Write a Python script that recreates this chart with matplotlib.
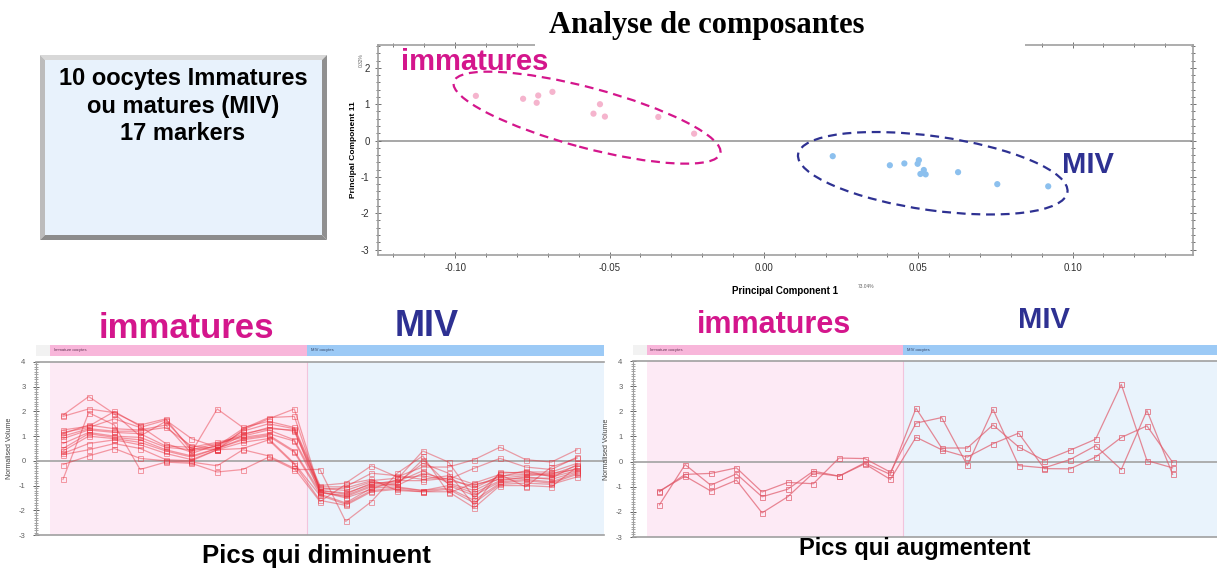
import matplotlib
matplotlib.use("Agg")
import matplotlib.pyplot as plt
from matplotlib.patches import Ellipse, Rectangle, Polygon
from matplotlib.transforms import ScaledTranslation
from matplotlib.ticker import MultipleLocator

plt.rcParams["font.family"] = ["Liberation Sans", "DejaVu Sans"]
plt.rcParams["axes.unicode_minus"] = False

W, H = 1217, 570

# PCA scores (component 1 / component 11)
immature_pc1 = [-0.0933, -0.0780, -0.0731, -0.0736, -0.0685, -0.0531, -0.0552, -0.0515, -0.0342, -0.0226]
immature_pc2 = [1.23, 1.15, 1.24, 1.04, 1.34, 1.00, 0.74, 0.66, 0.65, 0.19]
miv_pc1 = [0.0223, 0.0408, 0.0455, 0.0502, 0.0498, 0.0518, 0.0507, 0.0524, 0.0629, 0.0756, 0.0921]
miv_pc2 = [-0.43, -0.68, -0.63, -0.54, -0.64, -0.81, -0.92, -0.93, -0.87, -1.20, -1.26]
pc1_ticks = [-0.10, -0.05, 0.00, 0.05, 0.10]
pc2_ticks = [-3, -2, -1, 0, 1, 2]

# expression profiles: 10 immature samples then 11 MIV samples
n_immature = 10
samples = list(range(21))
profile_ticks = [-3, -2, -1, 0, 1, 2, 3, 4]

decreasing = [
    [1.85, 2.6, 1.9, 1.0, 1.6, 0.5, 0.45, 1.25, 1.7, 2.1, -1.2, -1.35, -0.9, -0.85, -0.4, -0.9, -1.2, -0.7, -0.6, -0.55, -0.2],
    [1.8, 2.1, 1.95, 1.45, 1.7, 0.4, 0.6, 1.3, 1.75, 1.8, -1.25, -1.5, -1.15, -0.75, 0.4, -0.05, -1.5, -0.5, -0.45, -0.45, -0.1],
    [1.25, 1.4, 2.0, 1.4, 0.7, 0.35, 2.1, 1.35, 1.6, 1.35, -1.0, -0.9, -0.2, -0.65, -0.25, -0.25, 0.05, 0.55, 0.05, -0.05, 0.45],
    [1.15, 1.35, 1.7, 1.35, 1.65, 0.9, 0.55, 1.2, 1.5, 1.3, -1.1, -1.2, -0.85, -1.0, -0.5, -0.75, -0.3, 0.1, -0.25, -0.35, 0.15],
    [1.1, 1.45, 1.3, 1.25, 1.45, 0.3, 0.65, 1.1, 1.3, 1.25, -1.3, -1.4, -1.0, -0.9, -0.1, -0.5, -1.8, -0.45, -0.5, -0.6, -0.3],
    [1.0, 1.3, 1.2, 1.2, 1.35, 0.6, 0.5, 1.05, 1.35, 1.2, -1.15, -1.1, -0.8, -0.7, -0.6, -0.8, -1.0, -0.65, -0.4, -0.65, -0.4],
    [0.9, 1.25, 1.15, 1.1, 0.6, 0.55, 0.75, 1.0, 1.25, 0.85, -1.05, -1.05, -0.5, -0.6, -0.75, -0.6, -0.95, -0.75, -0.7, -0.7, -0.15],
    [0.7, 1.15, 1.0, 0.95, 0.55, 0.45, 0.7, 0.95, 1.1, 0.8, -1.2, -1.3, -0.95, -0.8, -0.8, -0.7, -1.1, -0.6, -0.55, -0.5, -0.35],
    [0.5, 1.1, 0.95, 0.85, 0.45, 0.2, 0.5, 0.9, 1.05, 0.4, -1.25, -1.45, -1.05, -0.95, 0.05, -0.95, -1.3, -0.8, -0.65, -0.75, -0.45],
    [0.4, 1.0, 0.9, 0.75, 0.4, 0.15, 0.5, 0.85, 1.0, 0.35, -1.35, -1.7, -1.1, -1.05, -1.2, -1.0, -1.4, -0.85, -0.75, -0.85, -0.5],
    [0.3, 0.7, 0.85, 0.65, 0.3, 0.05, 0.45, 0.75, 0.9, -0.1, -1.4, -1.75, -1.2, -1.1, -1.2, -1.1, -1.6, -0.9, -0.8, -0.9, -0.55],
    [0.25, 0.45, 0.7, 0.5, 0.05, 0.0, 0.45, 0.5, 0.85, -0.15, -1.6, -1.8, -1.25, -1.15, -1.25, -1.15, -1.7, -0.95, -0.9, -0.95, -0.65],
    [-0.15, 0.2, 0.5, 0.1, 0.0, -0.05, -0.2, 0.45, 0.2, -0.3, -1.65, -0.95, -0.75, -1.2, -1.25, -1.25, -1.9, -1.0, -1.0, -1.05, -0.25],
    [-0.75, 1.95, 1.45, -0.35, -0.05, -0.1, -0.45, -0.35, 0.15, -0.35, -0.35, -2.45, -1.65, -0.5, 0.2, -1.3, -0.9, -0.55, -1.05, -0.25, 0.1],
]

increasing = [
    [-1.72, -0.12, -0.94, -0.49, -1.40, -1.10, -0.38, -0.58, -0.05, -0.51, 2.12, 0.54, 0.54, 1.46, 0.58, 0.04, 0.45, 0.89, 3.07, 0.04, -0.25],
    [-1.20, -0.51, -0.47, -0.25, -1.21, -0.83, -0.88, 0.14, 0.12, -0.42, 1.53, 1.75, -0.15, 2.08, -0.16, -0.25, 0.08, 0.63, -0.32, 2.03, -0.51],
    [-1.17, -0.58, -1.17, -0.74, -2.04, -1.40, -0.45, -0.58, -0.09, -0.71, 0.97, 0.47, 0.18, 0.71, 1.13, -0.28, -0.29, 0.18, 0.96, 1.42, -0.03],
]

PINK = "#d4168c"
NAVY = "#2e3192"


def fig_rect(x0, y0, x1, y1):
    # pixel box (top-left origin) -> figure fraction [left, bottom, width, height]
    return [x0 / W, 1 - y1 / H, (x1 - x0) / W, (y1 - y0) / H]


def fig_text(x, y, s, **kw):
    fig.text(x / W, 1 - y / H, s, ha="center", va="center", **kw)


def dashed_ellipse(ax, center, width_in, height_in, angle, color):
    # size in inches so the outline is not stretched by the unequal axis scales
    trans = ax.figure.dpi_scale_trans + ScaledTranslation(center[0], center[1], ax.transData)
    ax.add_patch(Ellipse((0, 0), width_in, height_in, angle=angle, transform=trans,
                         fill=False, ec=color, lw=1.6, ls=(0, (4, 2.6)), clip_on=False))


def profile_panel(box, header_box, series, xlim, color, alpha):
    ax = fig.add_axes(fig_rect(*box))
    ax.axvspan(-0.5, n_immature - 0.5, color="#fdeaf5", lw=0)
    ax.axvspan(n_immature - 0.5, xlim[1], color="#e9f3fc", lw=0)
    ax.axvline(n_immature - 0.5, color="#f2c4dc", lw=0.8)
    ax.axhline(0, color="#a8a8a8", lw=1.3)
    for vals in series:
        ax.plot(samples, vals, color=color, lw=0.9, alpha=alpha, marker="s", ms=3.6,
                mfc="none", mew=0.7)
    ax.set_xlim(xlim)
    ax.set_ylim(-3, 4)
    ax.set_xticks([])
    ax.set_yticks(profile_ticks)
    ax.yaxis.set_minor_locator(MultipleLocator(0.1))
    ax.tick_params(axis="y", which="major", direction="inout", length=5, width=0.7,
                   labelsize=5.5, colors="#606060", pad=5)
    ax.tick_params(axis="y", which="minor", direction="inout", length=3, width=0.5, colors="#808080")
    ax.set_ylabel("Normalised Volume", fontsize=5, color="#404040", labelpad=4)
    for side in ["top", "bottom", "left"]:
        ax.spines[side].set_color("#a0a0a0")
        ax.spines[side].set_linewidth(1.2)
    ax.spines["left"].set_linewidth(0.8)
    ax.spines["right"].set_visible(False)

    hd = fig.add_axes(fig_rect(*header_box))
    hd.set_xlim(xlim)
    hd.set_ylim(0, 1)
    hd.axis("off")
    hd.axvspan(xlim[0], -0.5, color="#f2f2f2", lw=0)
    hd.axvspan(-0.5, n_immature - 0.5, color="#f8b6da", lw=0)
    hd.axvspan(n_immature - 0.5, xlim[1], color="#9ccaf6", lw=0)
    hd.text(-0.35, 0.5, "Immature oocytes", fontsize=3, va="center", color="#603050")
    hd.text(n_immature - 0.35, 0.5, "MIV oocytes", fontsize=3, va="center", color="#304060")
    return ax


fig = plt.figure(figsize=(W / 100, H / 100), dpi=100)

# ---- info box with bevel ----
bevel = [
    ([(40, 55), (327, 55), (322, 60), (45, 60)], "#d8d8d8"),
    ([(40, 55), (45, 60), (45, 235), (40, 240)], "#bcbcbc"),
    ([(327, 55), (327, 240), (322, 235), (322, 60)], "#909090"),
    ([(40, 240), (327, 240), (322, 235), (45, 235)], "#8c8c8c"),
]
for pts, c in bevel:
    fig.patches.append(Polygon([(x / W, 1 - y / H) for x, y in pts], closed=True,
                               transform=fig.transFigure, fc=c, ec="none"))
fig.patches.append(Rectangle((45 / W, 1 - 235 / H), 277 / W, 175 / H, transform=fig.transFigure,
                             fc="#e8f2fc", ec="none"))
fig_text(183, 78, "10 oocytes Immatures", fontsize=17, weight="bold")
fig_text(183, 106, "ou matures (MIV)", fontsize=17, weight="bold")
fig_text(183, 133, "17 markers", fontsize=17, weight="bold")

# ---- PCA scatter ----
ax = fig.add_axes(fig_rect(378, 45, 1193, 255))
ax.axhline(0, color="#a0a0a0", lw=1.3, zorder=1)
ax.scatter(immature_pc1, immature_pc2, s=20, color="#f5b4cd", edgecolors="none", zorder=3)
ax.scatter(miv_pc1, miv_pc2, s=20, color="#8cc0ee", edgecolors="none", zorder=3)
ax.set_xlim(-0.125, 0.139)
ax.set_ylim(-3.15, 2.63)
ax.set_xticks(pc1_ticks)
ax.set_xticklabels([f"{t:.2f}" for t in pc1_ticks])
ax.set_yticks(pc2_ticks)
ax.xaxis.set_minor_locator(MultipleLocator(0.01))
ax.yaxis.set_minor_locator(MultipleLocator(0.2))
ax.tick_params(which="both", direction="inout", top=True, right=True, colors="#707070",
               labelsize=7, labelcolor="#303030", width=0.7)
ax.tick_params(which="major", length=5)
ax.tick_params(which="minor", length=3)
for side in ax.spines:
    ax.spines[side].set_color("#a0a0a0")
    ax.spines[side].set_linewidth(1.2)
ax.set_xlabel("Principal Component 1", fontsize=7, weight="bold", labelpad=9)
ax.set_ylabel("Principal Component 11", fontsize=6, weight="bold", labelpad=3)
fig_text(866, 286, "73.04%", fontsize=3.5, color="#606060")
fig_text(361, 60, "0.32%", fontsize=3.5, color="#606060", rotation=90)

dashed_ellipse(ax, (-0.0573, 0.63), 2.76, 0.60, -15, PINK)
dashed_ellipse(ax, (0.0547, -0.90), 2.72, 0.74, -8, NAVY)

# white title area hides the middle of the top frame
fig.patches.append(Rectangle((535 / W, 1 - 50 / H), 490 / W, 16 / H, transform=fig.transFigure,
                             fc="white", ec="none", zorder=5))
fig_text(707, 25, "Analyse de composantes", fontsize=22, weight="bold",
         family=["Liberation Serif", "DejaVu Serif"], zorder=6)
fig_text(475, 62, "immatures", fontsize=21, weight="bold", color=PINK)
fig_text(1088, 165, "MIV", fontsize=21, weight="bold", color=NAVY)

# ---- profile panels ----
profile_panel((36, 362, 604, 535), (36, 345, 604, 356), decreasing, (-1.05, 21.05), "#e8303c", 0.45)
profile_panel((633, 361, 1217, 537), (633, 345, 1217, 355), increasing, (-1.03, 21.73), "#e05a6a", 0.7)

fig_text(186, 328, "immatures", fontsize=25, weight="bold", color=PINK)
fig_text(427, 326, "MIV", fontsize=26, weight="bold", color=NAVY)
fig_text(774, 325, "immatures", fontsize=22, weight="bold", color=PINK)
fig_text(1044, 320, "MIV", fontsize=21, weight="bold", color=NAVY)
fig_text(316, 556, "Pics qui diminuent", fontsize=18.5, weight="bold")
fig_text(915, 548, "Pics qui augmentent", fontsize=17, weight="bold")

fig.savefig("out.png", dpi=100)
